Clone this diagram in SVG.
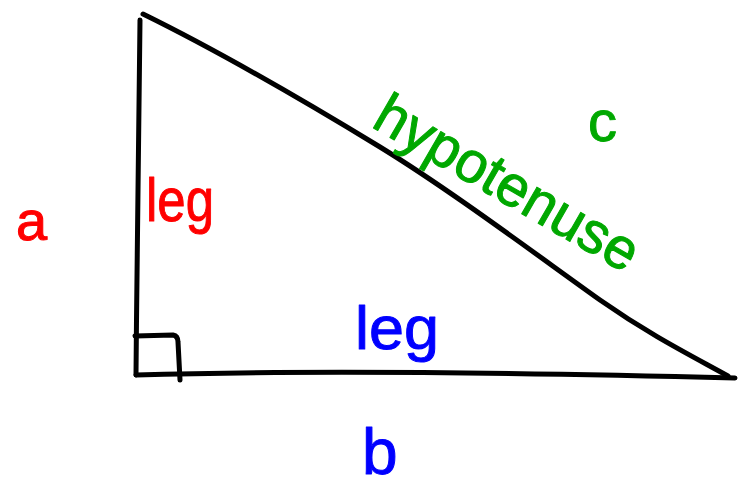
<svg xmlns="http://www.w3.org/2000/svg" width="738" height="487" viewBox="0 0 738 487">
<style>
.ink{fill:none;stroke:#000;stroke-width:5;stroke-linecap:round;stroke-linejoin:round}
.t{font-family:"Liberation Sans",Arial,sans-serif;stroke-width:1;stroke-linejoin:round}
.red{fill:#ff0000;stroke:#ff0000}
.green{fill:#00a800;stroke:#00a800}
.blue{fill:#0000ff;stroke:#0000ff}
</style>
<rect width="738" height="487" fill="#fff"/>
<g id="triangle">
<path class="ink" d="M140,20 C139,120 137,250 136,375"/>
<path class="ink" d="M143,14 C200,42 270,80 380,147 C450,190 530,250 600,300 C650,335 690,355 728,376"/>
<path class="ink" d="M136,375 C300,370 500,372 735,378"/>
<path class="ink" d="M135,336 L173,335 Q178,336 178,342 L180,380"/>
</g>
<g id="labels">
<text class="t red" x="16" y="240" font-size="56">a</text>
<text class="t red" x="146" y="221" font-size="62" textLength="68" lengthAdjust="spacingAndGlyphs">leg</text>
<text class="t green" x="588" y="141" font-size="58">c</text>
<text class="t green" font-size="58" textLength="295" lengthAdjust="spacingAndGlyphs" transform="translate(370,126) rotate(30)">hypotenuse</text>
<text class="t blue" x="355" y="349" font-size="62" textLength="84" lengthAdjust="spacingAndGlyphs">leg</text>
<text class="t blue" x="362" y="474" font-size="64">b</text>
</g>
</svg>
